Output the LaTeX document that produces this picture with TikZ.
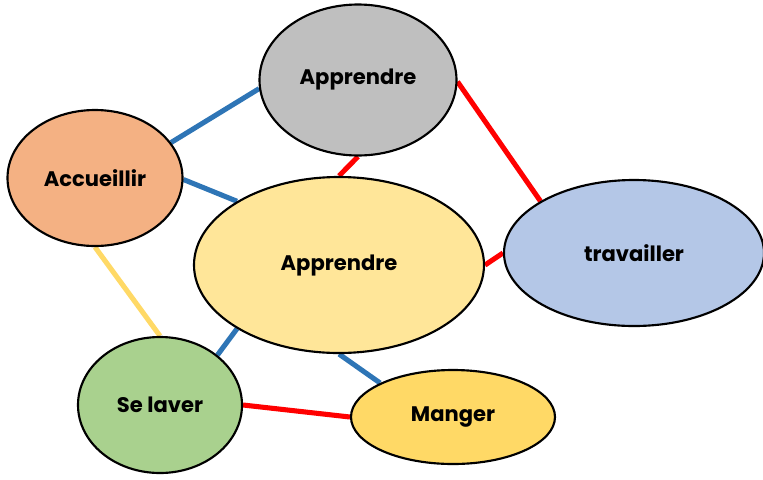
\documentclass[tikz,border=0pt]{standalone}
\usepackage{fontspec}
\setmainfont{Poppins}
\usetikzlibrary{shapes.geometric,backgrounds}
\definecolor{cgray}{HTML}{BFBFBF}
\definecolor{corange}{HTML}{F4B183}
\definecolor{cyell}{HTML}{FFE699}
\definecolor{cblue}{HTML}{B4C7E7}
\definecolor{cgreen}{HTML}{A9D18E}
\definecolor{cgold}{HTML}{FFD966}
\definecolor{lblue}{HTML}{2E75B6}
\definecolor{lred}{HTML}{FF0000}
\definecolor{lyell}{HTML}{FFD966}
\tikzset{
  bub/.style={ellipse, draw=black, line width=1.6pt, inner sep=0pt, font=\fontsize{15.8}{18}\selectfont\bfseries},
  bl/.style={draw=lblue, line width=3.8pt},
  rd/.style={draw=lred, line width=3.8pt},
  yl/.style={draw=lyell, line width=3.8pt}
}
\begin{document}
\begin{tikzpicture}[x=0.75pt,y=-0.75pt]
\useasboundingbox (0,0) rectangle (763,479);
\node[bub, fill=cgray, minimum width=197*0.75pt, minimum height=151*0.75pt] (gray) at (358,80) {Apprendre};
\node[bub, fill=corange, minimum width=175*0.75pt, minimum height=136*0.75pt] (acc) at (95,178) {Accueillir};
\node[bub, fill=cyell, minimum width=290*0.75pt, minimum height=176*0.75pt] (cen) at (339,265) {Apprendre};
\node[bub, fill=cblue, minimum width=260*0.75pt, minimum height=146*0.75pt] (trav) at (634,253) {travailler};
\node[bub, fill=cgreen, minimum width=164*0.75pt, minimum height=136*0.75pt] (lav) at (160,405) {Se laver};
\node[bub, fill=cgold, minimum width=204*0.75pt, minimum height=94*0.75pt] (man) at (453,417) {Manger};
\begin{scope}[on background layer]
\draw[bl] (acc.25) -- (gray.185);
\draw[bl] (acc.-1) -- (cen.148);
\draw[rd] (gray.-90) -- (cen.90);
\draw[rd] (gray.-1) -- (trav.151);
\draw[rd] (cen.0) -- (trav.180);
\draw[yl] (acc.-90) -- (lav.90);
\draw[bl] (cen.212) -- (lav.41);
\draw[bl] (cen.-90) -- (man.155);
\draw[rd] (lav.0) -- (man.180);
\end{scope}
\end{tikzpicture}
\end{document}
